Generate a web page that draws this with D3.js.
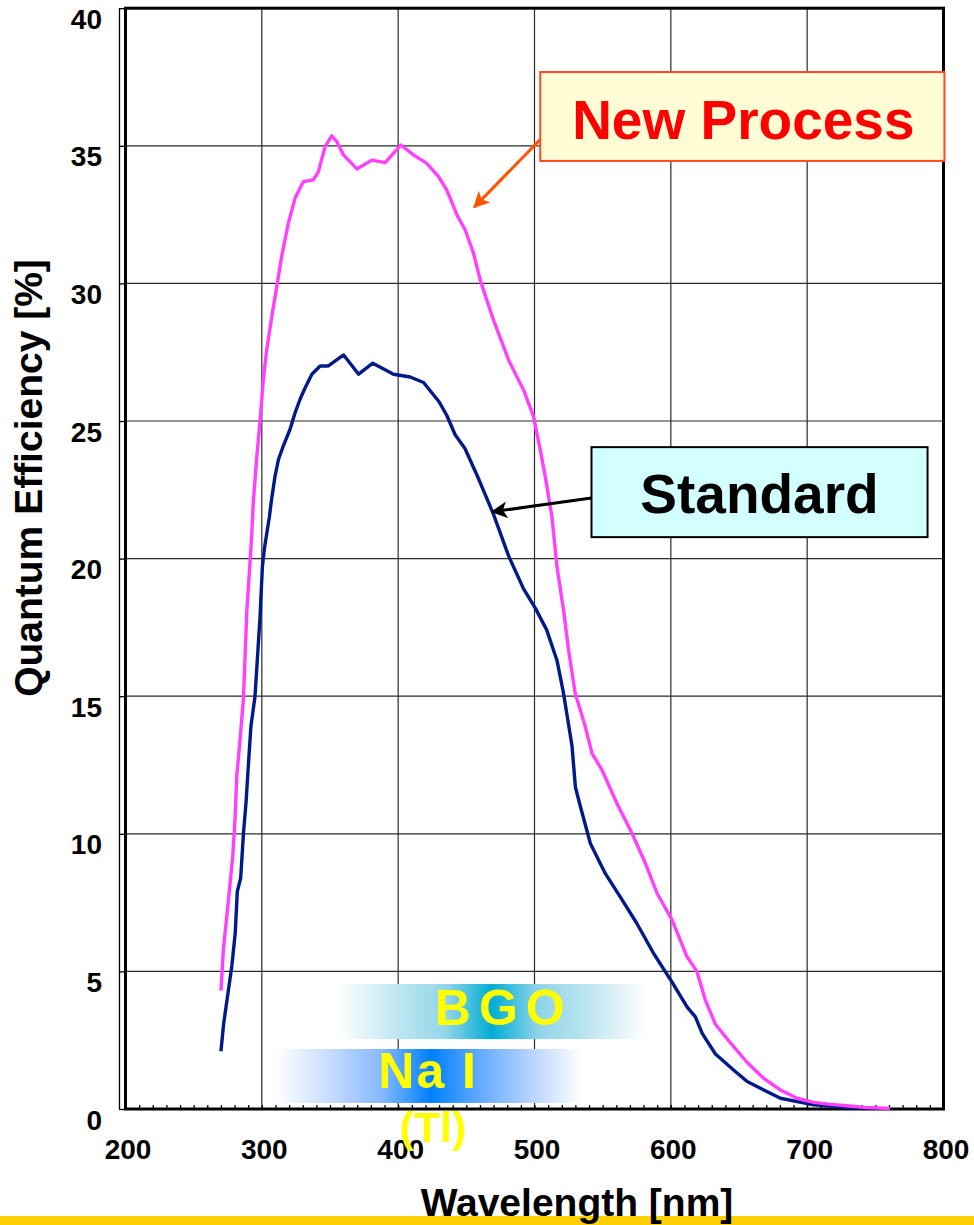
<!DOCTYPE html>
<html>
<head>
<meta charset="utf-8">
<script src="https://cdn.jsdelivr.net/npm/d3@7"></script>
<style>
  html, body { margin: 0; padding: 0; background: #fff; }
  svg { display: block; }
  text { font-family: "Liberation Sans", Arial, sans-serif; font-weight: bold; }
</style>
</head>
<body>
<svg id="chart" width="974" height="1225"></svg>
<script>
// ---------------- DATA ----------------
const standardWavelength = [270, 272, 278, 280.5, 282, 284.5, 286.5, 288.5, 290, 292, 295, 298.7, 300.4, 302, 305.5, 307, 309.7, 312.2, 315.8, 320.7, 324.4, 328.1, 331.7, 336.7, 342.8, 348.8, 360, 371, 381.4, 396.6, 408.8, 418.6, 430, 435.7, 441.8, 449, 459, 470, 481, 492, 500.6, 509, 516.5, 521.3, 527.5, 530, 533.6, 541, 552, 563, 575, 587.4, 601, 612, 618, 623, 632.7, 646, 656, 665.7, 680.4, 704.8, 729.3, 751];
const standardQE = [2.1, 3.1, 5.2, 6.4, 7.9, 8.4, 10.0, 11.2, 12.4, 13.9, 15.0, 17.9, 19.7, 20.4, 21.5, 22.1, 23.0, 23.6, 24.1, 24.7, 25.3, 25.8, 26.2, 26.7, 27.0, 27.0, 27.4, 26.7, 27.1, 26.7, 26.6, 26.4, 25.7, 25.2, 24.5, 24.0, 22.9, 21.6, 20.1, 18.9, 18.2, 17.4, 16.3, 15.1, 13.2, 11.7, 11.0, 9.65, 8.55, 7.7, 6.75, 5.65, 4.6, 3.7, 3.35, 2.75, 2.0, 1.42, 1.0, 0.75, 0.39, 0.15, 0.05, 0.03];

const newWavelength = [270, 271.8, 274.3, 276.7, 278.7, 280.4, 281.6, 284, 286.5, 289, 291.4, 292.6, 293.8, 296.3, 298.7, 301.1, 303.6, 305.5, 307.3, 311, 314.6, 319.5, 324.4, 330.5, 337.8, 341.5, 346.4, 351.3, 355, 359.9, 369.7, 380.7, 390.5, 402, 411.2, 421, 429.6, 435.7, 443.1, 449.2, 455.3, 460.2, 469.9, 481, 484.6, 492, 499.3, 504.2, 507.9, 512.8, 516.5, 521.3, 525, 529.9, 533.6, 537.2, 542.2, 549.5, 560.5, 571.5, 581.3, 589.9, 600.9, 611.9, 619.2, 625.3, 632.7, 643, 656, 668, 680.4, 692.6, 704.8, 717.1, 729.3, 741.5, 760.6];
const newQE = [4.3, 5.8, 7.0, 8.2, 9.2, 10.6, 12.1, 13.4, 14.9, 18.1, 19.9, 20.9, 22.1, 23.7, 25.0, 26.5, 27.6, 28.2, 28.8, 29.9, 31.0, 32.2, 33.1, 33.7, 33.76, 34.06, 34.97, 35.36, 35.15, 34.67, 34.16, 34.48, 34.39, 35.03, 34.67, 34.36, 33.88, 33.39, 32.49, 31.94, 31.09, 30.12, 28.67, 27.22, 26.85, 26.13, 25.16, 23.95, 22.98, 21.52, 19.7, 18.13, 16.68, 15.1, 14.5, 13.9, 12.92, 12.32, 11.1, 10.02, 8.93, 7.84, 6.87, 5.53, 4.99, 3.96, 3.08, 2.45, 1.69, 1.12, 0.69, 0.39, 0.24, 0.17, 0.12, 0.06, 0.02];

const xTickValues = [200, 300, 400, 500, 600, 700, 800];
const yTickValues = [0, 5, 10, 15, 20, 25, 30, 35, 40];

// scintillator emission bands (wavelength range, QE-axis band)
const bandNames = ["BGO", "Na I"];
const bandWavelength = [[356, 581.3], [309.7, 534.3]];
const bandLevel = [[4.54, 2.54], [2.18, 0.22]];

const xTitle = "Wavelength [nm]";
const yTitle = "Quantum Efficiency [%]";
const seriesLabels = ["New Process", "Standard"];

// ---------------- CHART ----------------
(function () {
const svg = d3.select("#chart");
const pLeft = 125.5, pRight = 943.5, pTop = 8.2, pBottom = 1109;
const x = d3.scaleLinear().domain([200, 800]).range([pLeft, pRight]);
const y = d3.scaleLinear().domain([0, 40]).range([pBottom, pTop]);

// bottom yellow strip
svg.append("rect").attr("x", 0).attr("y", 1216).attr("width", 974).attr("height", 9).attr("fill", "#FFD100");

// gridlines
const grid = svg.append("g").attr("stroke", "#2a2a2a").attr("stroke-width", 1.2);
xTickValues.slice(1, -1).forEach(v => {
  grid.append("line").attr("x1", x(v)).attr("x2", x(v)).attr("y1", pTop).attr("y2", pBottom);
});
yTickValues.slice(1, -1).forEach(v => {
  grid.append("line").attr("x1", pLeft).attr("x2", pRight).attr("y1", y(v)).attr("y2", y(v));
});

// gradients for bands
const defs = svg.append("defs");
const gBGO = defs.append("linearGradient").attr("id", "gBGO");
[[0, "#ffffff"], [0.18, "#c2e8f2"], [0.35, "#93d5e9"], [0.5, "#00acd5"], [0.65, "#8fd3e8"], [0.82, "#bfe6f1"], [1, "#ffffff"]]
  .forEach(s => gBGO.append("stop").attr("offset", s[0]).attr("stop-color", s[1]));
const gNaI = defs.append("linearGradient").attr("id", "gNaI");
[[0, "#ffffff"], [0.18, "#c6dcff"], [0.35, "#85b8ff"], [0.51, "#0080ff"], [0.66, "#5ea8ff"], [0.83, "#b5d2ff"], [1, "#ffffff"]]
  .forEach(s => gNaI.append("stop").attr("offset", s[0]).attr("stop-color", s[1]));
const bandFills = ["url(#gBGO)", "url(#gNaI)"];

bandNames.forEach((n, i) => {
  svg.append("rect")
    .attr("x", x(bandWavelength[i][0]))
    .attr("y", y(bandLevel[i][0]))
    .attr("width", x(bandWavelength[i][1]) - x(bandWavelength[i][0]))
    .attr("height", y(bandLevel[i][1]) - y(bandLevel[i][0]))
    .attr("fill", bandFills[i]);
});

// y axis (thin offset line with ticks pointing right)
const yAxis = d3.axisLeft(y).tickValues(yTickValues).tickSizeInner(-6).tickSizeOuter(0).tickPadding(17);
const gy = svg.append("g").attr("transform", "translate(119,0)").call(yAxis);
gy.select(".domain").attr("stroke", "#000").attr("stroke-width", 1.3);
gy.selectAll(".tick line").attr("stroke", "#000").attr("stroke-width", 1.3);
gy.selectAll(".tick text").attr("font-size", 28).attr("fill", "#000")
  .attr("font-family", "Liberation Sans, Arial, sans-serif").attr("font-weight", "bold")
  .attr("dy", "0.72em");

// x axis minor ticks every 10 nm pointing into the plot
const xAxis = d3.axisBottom(x).tickValues(d3.range(200, 801, 10)).tickSizeInner(-4).tickSizeOuter(0).tickPadding(30)
  .tickFormat(d => xTickValues.includes(d) ? String(d) : "");
const gx = svg.append("g").attr("transform", `translate(0,${pBottom})`).call(xAxis);
gx.select(".domain").remove();
gx.selectAll(".tick line").attr("stroke", "#000").attr("stroke-width", 1.3);
gx.selectAll(".tick text").attr("font-size", 28).attr("fill", "#000")
  .attr("font-family", "Liberation Sans, Arial, sans-serif").attr("font-weight", "bold")
  .attr("dx", 2);

// frame
svg.append("rect").attr("x", pLeft).attr("y", pTop).attr("width", pRight - pLeft).attr("height", pBottom - pTop)
  .attr("fill", "none").attr("stroke", "#000").attr("stroke-width", 3);

// band labels
const bandText = svg.append("g").attr("fill", "#FFFF00");
bandText.append("text").attr("x", x(d3.mean(bandWavelength[0])) + 12).attr("y", y(bandLevel[0][1]) - 14)
  .attr("text-anchor", "middle").attr("font-size", 50).attr("letter-spacing", 8).text(bandNames[0]);
bandText.append("text").attr("x", x(d3.mean(bandWavelength[1])) + 0).attr("y", y(bandLevel[1][1]) - 15)
  .attr("text-anchor", "middle").attr("font-size", 50).attr("letter-spacing", 2).text(bandNames[1]);
bandText.append("text").attr("x", x(d3.mean(bandWavelength[1])) + 5).attr("y", y(bandLevel[1][1]) + 39)
  .attr("text-anchor", "middle").attr("font-size", 43).text("(Tl)");

// curves
const line = d3.line().x(d => x(d[0])).y(d => y(d[1]));
svg.append("path").datum(d3.zip(standardWavelength, standardQE))
  .attr("d", line).attr("fill", "none").attr("stroke", "#001A8A").attr("stroke-width", 3.4)
  .attr("stroke-linejoin", "round");
svg.append("path").datum(d3.zip(newWavelength, newQE))
  .attr("d", line).attr("fill", "none").attr("stroke", "#FF40FF").attr("stroke-width", 3.4)
  .attr("stroke-linejoin", "round");

// arrow markers
function marker(id, color) {
  defs.append("marker").attr("id", id).attr("viewBox", "0 0 10 10").attr("refX", 9).attr("refY", 5)
    .attr("markerWidth", 5.5).attr("markerHeight", 5.5).attr("orient", "auto")
    .attr("markerUnits", "strokeWidth")
    .append("path").attr("d", "M0,0 L10,5 L0,10 L2.5,5 Z").attr("fill", color);
}
marker("arrOrange", "#FF5500");
marker("arrBlack", "#000");

// annotation: New Process
const npBox = { x0: 504.2, x1: 800.7, v0: 37.68, v1: 34.45 };
svg.append("line").attr("x1", x(npBox.x0)).attr("y1", y(35.23)).attr("x2", x(455.8)).attr("y2", y(32.77))
  .attr("stroke", "#FF5500").attr("stroke-width", 3).attr("marker-end", "url(#arrOrange)");
svg.append("rect").attr("x", x(npBox.x0)).attr("y", y(npBox.v0))
  .attr("width", x(npBox.x1) - x(npBox.x0)).attr("height", y(npBox.v1) - y(npBox.v0))
  .attr("fill", "#FFFDD5").attr("stroke", "#FF4A22").attr("stroke-width", 2);
svg.append("text").attr("x", (x(npBox.x0) + x(npBox.x1)) / 2 + 1).attr("y", y(npBox.v1) - 22)
  .attr("text-anchor", "middle").attr("font-size", 55).attr("fill", "#FF0000").text(seriesLabels[0]);

// annotation: Standard
const stBox = { x0: 541.8, x1: 788.3, v0: 24.05, v1: 20.78 };
svg.append("line").attr("x1", x(stBox.x0)).attr("y1", y(22.2)).attr("x2", x(469)).attr("y2", y(21.7))
  .attr("stroke", "#000").attr("stroke-width", 3).attr("marker-end", "url(#arrBlack)");
svg.append("rect").attr("x", x(stBox.x0)).attr("y", y(stBox.v0))
  .attr("width", x(stBox.x1) - x(stBox.x0)).attr("height", y(stBox.v1) - y(stBox.v0))
  .attr("fill", "#D2FFFF").attr("stroke", "#000").attr("stroke-width", 2);
svg.append("text").attr("x", (x(stBox.x0) + x(stBox.x1)) / 2).attr("y", y(stBox.v1) - 24)
  .attr("text-anchor", "middle").attr("font-size", 55).attr("fill", "#000").text(seriesLabels[1]);

// axis titles
svg.append("text").attr("x", 577).attr("y", 1216).attr("text-anchor", "middle")
  .attr("font-size", 39).attr("fill", "#000").text(xTitle);
svg.append("text").attr("transform", "translate(42,478) rotate(-90)").attr("text-anchor", "middle")
  .attr("font-size", 39).attr("fill", "#000").text(yTitle);
})();
</script>
</body>
</html>
